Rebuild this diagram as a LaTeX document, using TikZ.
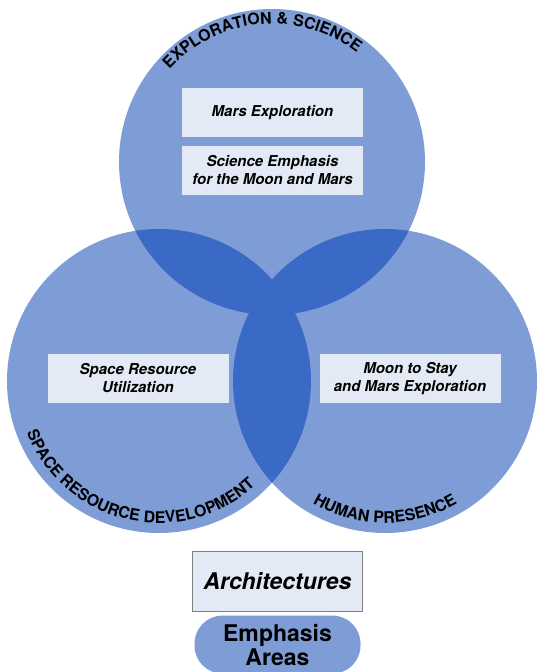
\documentclass[tikz,border=0pt]{standalone}
\usepackage{fontspec}
\setmainfont{TeX Gyre Heros}
\usetikzlibrary{positioning,decorations.text}
\definecolor{arealight}{RGB}{126,157,215}
\definecolor{areadark}{RGB}{58,106,198}
\definecolor{boxfill}{RGB}{228,234,245}
\tikzset{
  archbox/.style={fill=boxfill, minimum width=181, minimum height=49, inner sep=2pt, align=center,
    font=\fontsize{15}{18}\selectfont\bfseries\itshape},
  rimtext/.style={decorate, decoration={text along path, text align=center,
    text={|\fontsize{16}{16}\selectfont\bfseries|#1}}}
}
\begin{document}
\begin{tikzpicture}[x=1pt, y=1pt]
    \useasboundingbox (0,0) rectangle (537,-672);
    \coordinate (ES) at (272,-162);
    \coordinate (SRD) at (159,-381);
    \coordinate (HP) at (385,-381);
    \fill[arealight] (ES) circle[radius=153] (SRD) circle[radius=152] (HP) circle[radius=152];
    \begin{scope}
        \clip (ES) circle[radius=153];
        \fill[areadark] (SRD) circle[radius=152] (HP) circle[radius=152];
    \end{scope}
    \begin{scope}
        \clip (SRD) circle[radius=152];
        \fill[areadark] (HP) circle[radius=152];
    \end{scope}
    \path[rimtext={EXPLORATION {\&} SCIENCE}] ([shift={(165:138)}]ES) arc[start angle=165, end angle=25, radius=138];
    \path[rimtext={SPACE RESOURCE DEVELOPMENT}] ([shift={(177:142)}]SRD) arc[start angle=177, end angle=337, radius=142];
    \path[rimtext={HUMAN PRESENCE}] ([shift={(200:142)}]HP) arc[start angle=200, end angle=340, radius=142];
    \node[archbox] (mars) at (272.5,-112.5) {Mars Exploration};
    \node[archbox] (sci) at (272.5,-170.5) {Science Emphasis\\for the Moon and Mars};
    \node[archbox] (sru) at (138,-378.5) {Space Resource\\Utilization};
    \node[archbox] (mts) at (410,-378.5) {Moon to Stay\\and Mars Exploration};
    \node[draw=gray, line width=0.8pt, fill=boxfill, minimum width=170, minimum height=60,
        font=\fontsize{23}{23}\selectfont\bfseries\itshape] (arch) at (277.5,-581) {Architectures};
    \node[fill=arealight, rounded corners=28, minimum width=166, minimum height=58, inner sep=0pt, align=center,
        font=\fontsize{23}{24}\selectfont\bfseries] (emph) [below=4pt of arch] {Emphasis\\Areas};
\end{tikzpicture}
\end{document}
